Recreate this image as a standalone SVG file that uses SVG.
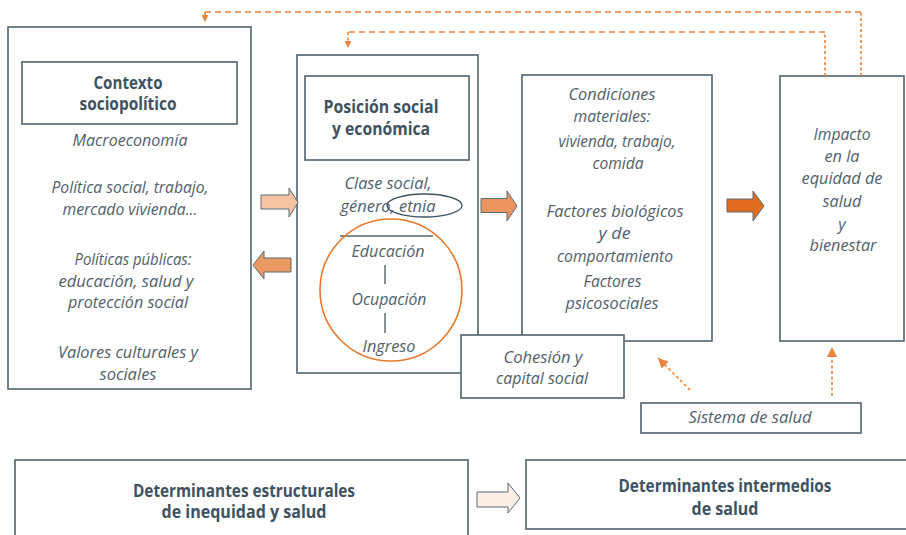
<svg xmlns="http://www.w3.org/2000/svg" width="906" height="535" viewBox="0 0 906 535">
<style>
.box{fill:#ffffff;stroke:#5b6b77;stroke-width:1.7}
.t{font-family:"Open Sans","Noto Sans",sans-serif;font-style:italic;font-size:16px;fill:#52606b;text-anchor:middle}
.b{font-family:"Open Sans","Noto Sans",sans-serif;font-weight:bold;font-size:17px;fill:#3e5261;text-anchor:middle}
.arr{stroke:#5b6b77;stroke-width:1}
.dash{fill:none;stroke:#e8843c;stroke-width:1.6;stroke-dasharray:6 4}
.dot{fill:none;stroke:#e8843c;stroke-width:1.6;stroke-dasharray:3 2.5}
.sep{stroke:#56646f;stroke-width:1.4}
</style>
<defs>
<marker id="ah" viewBox="0 0 10 10" refX="10" refY="5" markerUnits="userSpaceOnUse" markerWidth="7" markerHeight="7" orient="auto">
<path d="M0,0 L10,5 L0,10 z" fill="#e8843c"/>
</marker>
<marker id="ahL" viewBox="0 0 10 10" refX="10" refY="5" markerUnits="userSpaceOnUse" markerWidth="10" markerHeight="10" orient="auto">
<path d="M0,0 L10,5 L0,10 z" fill="#e8843c"/>
</marker>
</defs>
<rect width="906" height="535" fill="#ffffff"/>

<g id="contexto">
<rect class="box" x="8" y="27" width="243" height="362"/>
<rect class="box" x="22" y="62" width="215" height="62"/>
<text class="b" x="128" y="89" textLength="69" lengthAdjust="spacingAndGlyphs">Contexto</text>
<text class="b" x="128" y="110" textLength="97" lengthAdjust="spacingAndGlyphs">sociopolítico</text>
<text class="t" x="130" y="146" textLength="115" lengthAdjust="spacingAndGlyphs">Macroeconomía</text>
<text class="t" x="130" y="193" textLength="157" lengthAdjust="spacingAndGlyphs">Política social, trabajo,</text>
<text class="t" x="130" y="215" textLength="135" lengthAdjust="spacingAndGlyphs">mercado vivienda...</text>
<text class="t" x="133" y="265" textLength="117" lengthAdjust="spacingAndGlyphs">Políticas públicas:</text>
<text class="t" x="126" y="287" textLength="135" lengthAdjust="spacingAndGlyphs">educación, salud y</text>
<text class="t" x="128" y="308" textLength="120" lengthAdjust="spacingAndGlyphs">protección social</text>
<text class="t" x="128" y="358" textLength="140" lengthAdjust="spacingAndGlyphs">Valores culturales y</text>
<text class="t" x="128" y="380" textLength="57" lengthAdjust="spacingAndGlyphs">sociales</text>
</g>

<g id="posicion">
<rect class="box" x="297" y="55" width="181" height="318"/>
<rect class="box" x="305" y="76" width="164" height="84"/>
<text class="b" x="381" y="113" textLength="115" lengthAdjust="spacingAndGlyphs">Posición social</text>
<text class="b" x="381" y="135" textLength="98" lengthAdjust="spacingAndGlyphs">y económica</text>
<text class="t" x="388" y="189" textLength="87" lengthAdjust="spacingAndGlyphs">Clase social,</text>
<text class="t" x="388" y="212" textLength="95" lengthAdjust="spacingAndGlyphs">género, etnia</text>
<ellipse cx="424.5" cy="205.5" rx="37.5" ry="11.5" fill="none" stroke="#3e5261" stroke-width="1.3"/>
<line class="sep" x1="340" y1="236" x2="433" y2="236"/>
<circle cx="391" cy="290" r="71" fill="none" stroke="#e8782a" stroke-width="1.6"/>
<text class="t" x="388" y="257" textLength="73" lengthAdjust="spacingAndGlyphs">Educación</text>
<line class="sep" x1="385" y1="265" x2="385" y2="284"/>
<text class="t" x="389" y="305" textLength="75" lengthAdjust="spacingAndGlyphs">Ocupación</text>
<line class="sep" x1="385" y1="313" x2="385" y2="333"/>
<text class="t" x="389" y="352" textLength="53" lengthAdjust="spacingAndGlyphs">Ingreso</text>
</g>

<g id="condiciones">
<rect class="box" x="522" y="75" width="190" height="266"/>
<text class="t" x="612" y="100" textLength="87" lengthAdjust="spacingAndGlyphs">Condiciones</text>
<text class="t" x="612" y="122" textLength="77" lengthAdjust="spacingAndGlyphs">materiales:</text>
<text class="t" x="617" y="147" textLength="117" lengthAdjust="spacingAndGlyphs">vivienda, trabajo,</text>
<text class="t" x="618" y="169" textLength="51" lengthAdjust="spacingAndGlyphs">comida</text>
<text class="t" x="615" y="217" textLength="137" lengthAdjust="spacingAndGlyphs">Factores biológicos</text>
<text class="t" x="614.5" y="239" textLength="32" lengthAdjust="spacingAndGlyphs">y de</text>
<text class="t" x="615" y="262" textLength="116" lengthAdjust="spacingAndGlyphs">comportamiento</text>
<text class="t" x="612.5" y="287" textLength="58" lengthAdjust="spacingAndGlyphs">Factores</text>
<text class="t" x="612" y="309" textLength="93" lengthAdjust="spacingAndGlyphs">psicosociales</text>
</g>

<g id="impacto">
<rect class="box" x="780" y="76" width="124" height="265"/>
<text class="t" x="842" y="140" textLength="57" lengthAdjust="spacingAndGlyphs">Impacto</text>
<text class="t" x="842" y="162" textLength="35" lengthAdjust="spacingAndGlyphs">en la</text>
<text class="t" x="842" y="184" textLength="81" lengthAdjust="spacingAndGlyphs">equidad de</text>
<text class="t" x="842" y="207" textLength="39" lengthAdjust="spacingAndGlyphs">salud</text>
<text class="t" x="842" y="230">y</text>
<text class="t" x="843" y="251" textLength="67" lengthAdjust="spacingAndGlyphs">bienestar</text>
</g>

<g id="cohesion">
<rect class="box" x="461" y="335" width="163" height="63"/>
<text class="t" x="543" y="363" textLength="79" lengthAdjust="spacingAndGlyphs">Cohesión y</text>
<text class="t" x="542" y="384" textLength="92" lengthAdjust="spacingAndGlyphs">capital social</text>
</g>

<g id="sistema">
<rect class="box" x="641" y="403" width="220" height="30"/>
<text class="t" x="750" y="423" textLength="123" lengthAdjust="spacingAndGlyphs">Sistema de salud</text>
</g>

<g id="estructurales">
<rect class="box" x="15" y="460" width="453" height="90"/>
<text class="b" x="244" y="497" textLength="222" lengthAdjust="spacingAndGlyphs">Determinantes estructurales</text>
<text class="b" x="244" y="518" textLength="165" lengthAdjust="spacingAndGlyphs">de inequidad y salud</text>
</g>

<g id="intermedios">
<rect class="box" x="526" y="460" width="400" height="69"/>
<text class="b" x="725" y="492" textLength="213" lengthAdjust="spacingAndGlyphs">Determinantes intermedios</text>
<text class="b" x="725" y="515" textLength="67" lengthAdjust="spacingAndGlyphs">de salud</text>
</g>

<g id="connectors">
<path class="arr" fill="#f6c4a2" d="M261,195 H289 V188 L298,202.5 L289,217 V209 H261 Z"/>
<path class="arr" fill="#eb9a62" d="M291,258 H264 V251 L253,265 L264,279 V272 H291 Z"/>
<path class="arr" fill="#eb9660" d="M481,198.5 H507 V191 L517,206 L507,221 V212.5 H481 Z"/>
<path class="arr" fill="#e06b1f" d="M727,199 H753 V191 L764,206 L753,221 V212 H727 Z"/>
<path class="arr" fill="#fbeee4" d="M477,492 H508 V483 L520,498 L508,513 V507 H477 Z"/>
<path class="dot" d="M861,76 V12"/>
<path class="dash" d="M861,12 H205"/>
<path class="dot" d="M205,12 V22" marker-end="url(#ah)"/>
<path class="dot" d="M825,76 V32"/>
<path class="dash" d="M825,32 H348"/>
<path class="dot" d="M348,32 V48" marker-end="url(#ah)"/>
<path class="dot" d="M690,390 L658,358" marker-end="url(#ahL)"/>
<path class="dot" d="M832,396 V347" marker-end="url(#ahL)"/>
</g>
</svg>
